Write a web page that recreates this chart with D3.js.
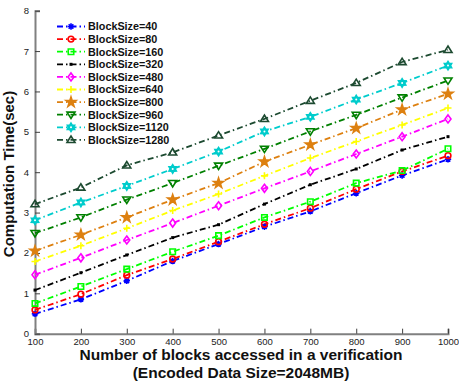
<!DOCTYPE html>
<html><head><meta charset="utf-8">
<script src="https://cdn.jsdelivr.net/npm/d3@7/dist/d3.min.js"></script>
<style>body{margin:0;background:#fff}svg{display:block;font-family:Arial,"Liberation Sans",sans-serif}</style>
</head><body><svg id="c" width="459" height="381"></svg>
<script>
const blocks = [100,200,300,400,500,600,700,800,900,1000];
const seriesNames = ["BlockSize=40","BlockSize=80","BlockSize=160","BlockSize=320","BlockSize=480","BlockSize=640","BlockSize=800","BlockSize=960","BlockSize=1120","BlockSize=1280"];
const s40   = [0.49,0.85,1.31,1.80,2.22,2.65,3.03,3.48,3.92,4.32];
const s80   = [0.59,0.98,1.45,1.85,2.28,2.71,3.11,3.58,4.02,4.41];
const s160  = [0.75,1.17,1.60,2.03,2.43,2.88,3.27,3.73,4.04,4.58];
const s320  = [1.08,1.51,1.95,2.38,2.70,3.21,3.69,4.08,4.55,4.88];
const s480  = [1.46,1.88,2.32,2.74,3.17,3.60,4.02,4.45,4.88,5.32];
const s640  = [1.79,2.18,2.61,3.05,3.46,3.91,4.35,4.76,5.17,5.59];
const s800  = [2.05,2.45,2.88,3.32,3.73,4.26,4.68,5.09,5.55,5.94];
const s960  = [2.49,2.88,3.32,3.73,4.16,4.58,5.01,5.42,5.85,6.27];
const s1120 = [2.81,3.25,3.66,4.08,4.51,5.01,5.37,5.80,6.21,6.64];
const s1280 = [3.21,3.62,4.17,4.49,4.91,5.32,5.77,6.21,6.73,7.03];
const seriesValues = [s40,s80,s160,s320,s480,s640,s800,s960,s1120,s1280];
const colors = ["#0000ff","#ff0000","#00ff00","#000000","#ff00ff","#ffff00","#dd8010","#008000","#00cccc","#1c4a30"];
const markers = ["asterisk","circle","square","dot","diamond","plus","star","tridown","hexstar","triup"];
const xTicks = blocks;
const yTicks = [0,1,2,3,4,5,6,7,8];

const svg = d3.select("#c");
const x = d3.scaleLinear().domain([100,1000]).range([35,448]);
const y = d3.scaleLinear().domain([0,8]).range([333.7,10.7]);

const gx = svg.append("g").attr("transform","translate(0,"+y(0)+")")
  .call(d3.axisBottom(x).tickValues(xTicks).tickSize(-5).tickPadding(5).tickFormat(d3.format("d")));
const gy = svg.append("g").attr("transform","translate("+x(100)+",0)")
  .call(d3.axisLeft(y).tickValues(yTicks).tickSize(-5).tickPadding(6));
[gx,gy].forEach(g=>{
  g.select(".domain").attr("stroke","#808080").attr("stroke-width",2);
  g.selectAll(".tick line").attr("stroke","#404040").attr("stroke-width",1);
  g.selectAll(".tick text").attr("fill","#222").attr("font-size",9.5);
});

function markerPath(type){
  switch(type){
    case "circle": return d3.symbol(d3.symbolCircle, 26)();
    case "square": return d3.symbol(d3.symbolSquare, 30)();
    case "diamond": return "M0,-4L3,0L0,4L-3,0Z";
    case "plus": return "M-3.5,0H3.5M0,-3.5V3.5";
    case "asterisk": return "M-3.2,0H3.2M0,-3.2V3.2M-2.3,-2.3L2.3,2.3M-2.3,2.3L2.3,-2.3";
    case "star": return d3.symbol(d3.symbolStar, 30)();
    case "tridown": return "M-4,-2.6L4,-2.6L0,3.8Z";
    case "triup": return "M-4,2.6L4,2.6L0,-3.8Z";
    case "hexstar": { const r=4.2; let p=""; for(let i=0;i<12;i++){const a=Math.PI/6*i-Math.PI/2; const rr=i%2?r*0.6:r; p+=(i?"L":"M")+(rr*Math.cos(a)).toFixed(2)+","+(rr*Math.sin(a)).toFixed(2);} return p+"Z"; }
    case "dot": return d3.symbol(d3.symbolSquare, 9)();
  }
}
function drawMarker(g, type, color){
  const filled = (type==="star"||type==="dot"||type==="hexstar");
  g.append("path").attr("d", markerPath(type))
    .attr("stroke", color).attr("stroke-width", type==="dot"?0:1.6)
    .attr("fill", filled? color : "none");
  if(type==="hexstar"){ g.append("circle").attr("r",1).attr("fill","white"); }
}

const line = d3.line().x((d,i)=>x(blocks[i])).y(d=>y(d));
seriesValues.forEach((vals,k)=>{
  svg.append("path").datum(vals).attr("d",line).attr("fill","none")
    .attr("stroke",colors[k]).attr("stroke-width",1.8).attr("stroke-dasharray","6,3,1.5,3");
});
seriesValues.forEach((vals,k)=>{
  vals.forEach((v,i)=>{
    const g = svg.append("g").attr("transform",`translate(${x(blocks[i])},${y(v)})`);
    drawMarker(g, markers[k], colors[k]);
  });
});

const lg = svg.append("g");
seriesNames.forEach((name,k)=>{
  const yy = 26.5 + k*12.6;
  lg.append("line").attr("x1",57).attr("x2",85).attr("y1",yy).attr("y2",yy)
    .attr("stroke",colors[k]).attr("stroke-width",1.8).attr("stroke-dasharray","6,3,1.5,3");
  const g = lg.append("g").attr("transform",`translate(71,${yy})`);
  drawMarker(g, markers[k], colors[k]);
  lg.append("text").attr("x",88).attr("y",yy+3.8).attr("font-size",10.8).attr("font-weight","bold")
    .attr("fill","#111").text(name);
});

svg.append("text").attr("transform","translate(14,174) rotate(-90)").attr("text-anchor","middle")
  .attr("font-size",15).attr("font-weight","bold").attr("fill","#111").text("Computation Time(sec)");
svg.append("text").attr("x",241).attr("y",360).attr("text-anchor","middle")
  .attr("font-size",15.5).attr("font-weight","bold").attr("fill","#111").text("Number of blocks accessed in a verification");
svg.append("text").attr("x",241).attr("y",378).attr("text-anchor","middle")
  .attr("font-size",15.5).attr("font-weight","bold").attr("fill","#111").text("(Encoded Data Size=2048MB)");
</script></body></html>
